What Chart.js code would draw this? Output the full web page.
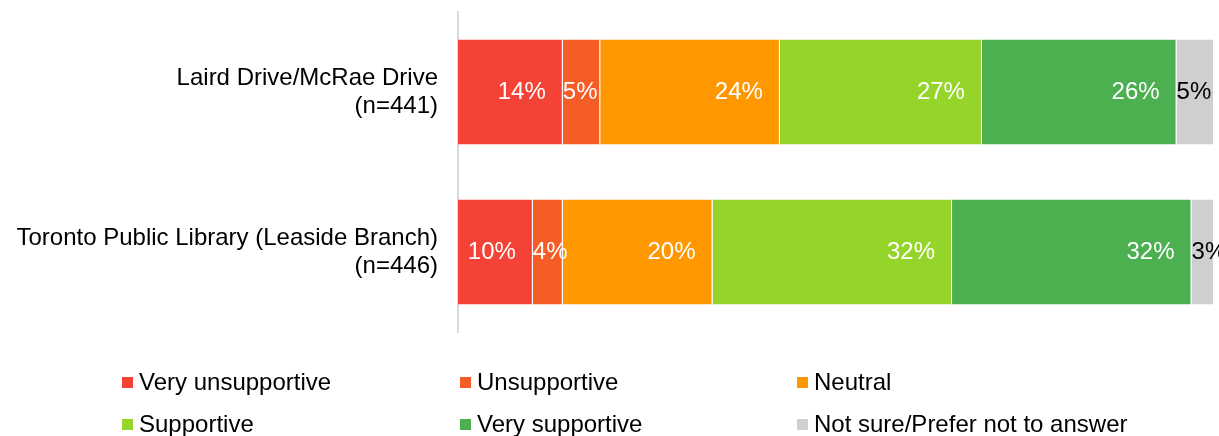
<!DOCTYPE html>
<html>
<head>
<meta charset="utf-8">
<script src="https://cdn.jsdelivr.net/npm/chart.js@4/dist/chart.umd.min.js"></script>
<style>
    html, body { margin: 0; padding: 0; background: #fff; }
    #wrap { position: relative; width: 1219px; height: 436px; overflow: hidden; }
    #legend {
        position: absolute; left: 122px; top: 361px;
        display: grid; grid-template-columns: 338px 337px 400px; grid-auto-rows: 42px;
        font-family: "Liberation Sans", Arial, sans-serif; font-size: 24px; color: #000;
    }
    #legend .item { display: flex; align-items: center; white-space: nowrap; }
    #legend .box { width: 11px; height: 11px; margin-right: 6px; flex: none; }
</style>
</head>
<body>
<div id="wrap">
    <canvas id="supportChart" width="1219" height="436"></canvas>
    <div id="legend"></div>
</div>
<script>
const locations = [
    ['Laird Drive/McRae Drive', '(n=441)'],
    ['Toronto Public Library (Leaside Branch)', '(n=446)']
];
const responses = ['Very unsupportive', 'Unsupportive', 'Neutral', 'Supportive', 'Very supportive', 'Not sure/Prefer not to answer'];
const veryUnsupportive = [14, 10];
const unsupportive = [5, 4];
const neutral = [24, 20];
const supportive = [27, 32];
const verySupportive = [26, 32];
const notSure = [5, 3];
const colours = ['#F44336', '#F65C26', '#FF9800', '#95D52A', '#4CAF50', '#D0CECE'];

const FONT = '"Liberation Sans", Arial, sans-serif';
const series = [veryUnsupportive, unsupportive, neutral, supportive, verySupportive, notSure];
const rowTotal = Math.max(...locations.map((_, i) => series.reduce((s, d) => s + d[i], 0)));

// percent labels sit near the end of each segment, pushed right when the segment is narrow
const segmentLabels = {
    id: 'segmentLabels',
    afterDatasetsDraw(chart) {
        const ctx = chart.ctx;
        ctx.save();
        ctx.font = '24px ' + FONT;
        ctx.textBaseline = 'middle';
        ctx.textAlign = 'left';
        chart.data.datasets.forEach(function(ds, di) {
            const meta = chart.getDatasetMeta(di);
            ctx.fillStyle = di === chart.data.datasets.length - 1 ? '#000' : '#fff';
            meta.data.forEach(function(bar, i) {
                const text = ds.data[i] + '%';
                const w = ctx.measureText(text).width;
                const right = bar.x - 17;
                const left = Math.max(right - w, bar.base);
                ctx.fillText(text, left, bar.y);
            });
        });
        ctx.restore();
    }
};

const myChart = new Chart(document.getElementById('supportChart'), {
    type: 'bar',
    data: {
        labels: locations,
        datasets: responses.map(function(name, i) {
            return {
                label: name,
                data: series[i],
                backgroundColor: colours[i],
                borderColor: '#fff',
                borderWidth: { top: 0, bottom: 0, left: 0, right: 1 },
                borderSkipped: false,
                barPercentage: 1,
                categoryPercentage: 0.656
            };
        })
    },
    plugins: [segmentLabels],
    options: {
        indexAxis: 'y',
        responsive: false,
        animation: false,
        layout: { padding: { top: 12, right: 5, bottom: 104, left: 0 } },
        scales: {
            x: {
                stacked: true,
                min: 0,
                max: rowTotal,
                display: false
            },
            y: {
                stacked: true,
                grid: { display: false, drawTicks: false },
                border: { display: true, color: '#D9D9D9', width: 2 },
                ticks: {
                    color: '#000',
                    padding: 20,
                    font: { family: FONT, size: 24, lineHeight: 1.17 }
                },
                afterFit: function(scale) {
                    scale.width = 458;
                    scale.paddingTop = 0;
                    scale.paddingBottom = 0;
                }
            }
        },
        plugins: {
            legend: { display: false },
            tooltip: { enabled: false }
        }
    }
});

const legend = document.getElementById('legend');
responses.forEach(function(name, i) {
    const item = document.createElement('div');
    item.className = 'item';
    item.innerHTML = '<span class="box" style="background:' + colours[i] + '"></span><span>' + name + '</span>';
    legend.appendChild(item);
});
</script>
</body>
</html>
